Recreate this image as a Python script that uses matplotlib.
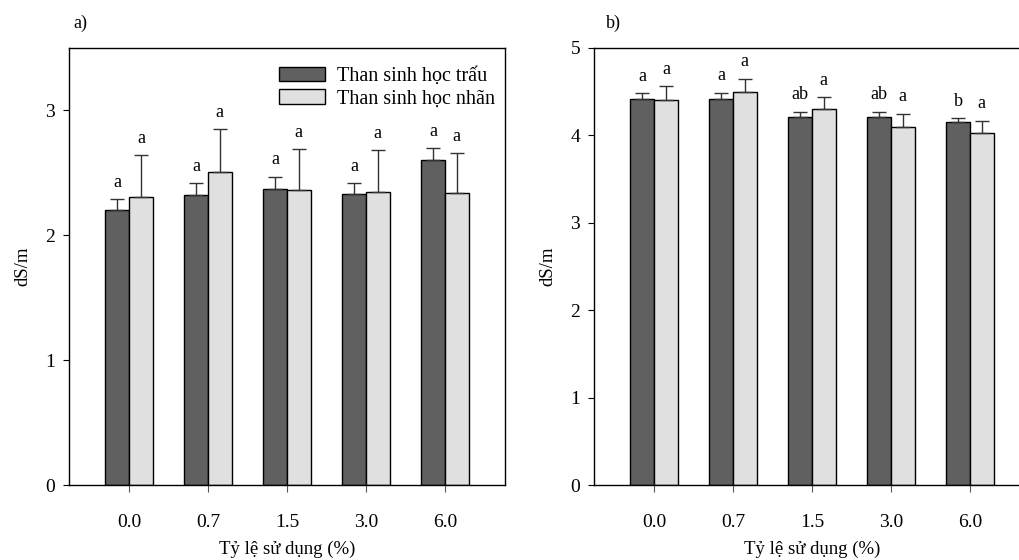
import matplotlib
matplotlib.use("Agg")
import matplotlib.pyplot as plt
import numpy as np
from matplotlib.patches import Patch

plt.rcParams['font.family'] = ['Liberation Serif', 'DejaVu Serif']

categories = ["0.0", "0.7", "1.5", "3.0", "6.0"]
series_names = ["Than sinh học trấu", "Than sinh học nhãn"]

# Panel a
a_trau = [2.20, 2.32, 2.37, 2.33, 2.60]
a_trau_err = [0.09, 0.10, 0.10, 0.09, 0.10]
a_nhan = [2.31, 2.51, 2.36, 2.35, 2.34]
a_nhan_err = [0.33, 0.34, 0.33, 0.33, 0.32]
a_trau_lbl = ["a", "a", "a", "a", "a"]
a_nhan_lbl = ["a", "a", "a", "a", "a"]

# Panel b
b_trau = [4.42, 4.42, 4.21, 4.21, 4.15]
b_trau_err = [0.06, 0.07, 0.06, 0.06, 0.05]
b_nhan = [4.41, 4.50, 4.30, 4.10, 4.03]
b_nhan_err = [0.15, 0.15, 0.14, 0.15, 0.14]
b_trau_lbl = ["a", "a", "ab", "ab", "b"]
b_nhan_lbl = ["a", "a", "a", "a", "a"]

dark = "#606060"
light = "#e0e0e0"

fig = plt.figure(figsize=(10.19, 5.6), dpi=100)

def panel(rect, v1, e1, v2, e2, l1, l2, ymax, yticks, tag, tagx, legend=False):
    ax = fig.add_axes(rect)
    x = np.arange(len(categories))
    w = 0.3
    ekw = dict(ecolor="#333333", elinewidth=1.0, capsize=5, capthick=1.0)
    ax.bar(x - w/2, v1, w, color=dark, edgecolor="black", linewidth=1.0,
           yerr=[np.zeros(len(e1)), e1], error_kw=ekw, zorder=2)
    ax.bar(x + w/2, v2, w, color=light, edgecolor="black", linewidth=1.0,
           yerr=[np.zeros(len(e2)), e2], error_kw=ekw, zorder=2)
    for i in range(len(x)):
        ax.annotate(l1[i], (x[i] - w/2, v1[i] + e1[i]), xytext=(0, 6),
                    textcoords="offset points", ha="center", va="bottom", fontsize=13)
        ax.annotate(l2[i], (x[i] + w/2, v2[i] + e2[i]), xytext=(0, 6),
                    textcoords="offset points", ha="center", va="bottom", fontsize=13)
    ax.set_xlim(-0.76, 4.76)
    ax.set_ylim(0, ymax)
    ax.set_yticks(yticks)
    ax.set_yticklabels([str(t) for t in yticks], fontsize=14)
    ax.set_xticks(x)
    ax.set_xticklabels(categories, fontsize=14)
    ax.tick_params(axis="x", direction="out", length=5, pad=16, color="#555555")
    ax.tick_params(axis="y", direction="out", length=4, pad=6)
    for s in ax.spines.values():
        s.set_linewidth(1.0)
    ax.set_xlabel("Tỷ lệ sử dụng (%)", fontsize=13.5, labelpad=7)
    ax.set_ylabel("dS/m", fontsize=13.5, labelpad=10)
    fig.text(tagx, 1 - 23/560, tag, fontsize=13, ha="left", va="center")
    if legend:
        handles = [Patch(facecolor=dark, edgecolor="black", linewidth=1.0),
                   Patch(facecolor=light, edgecolor="black", linewidth=1.0)]
        ax.legend(handles, series_names, loc="upper right", frameon=False,
                  fontsize=14.5, handlelength=2.3, handleheight=0.75,
                  handletextpad=0.6, labelspacing=0.15,
                  bbox_to_anchor=(1.005, 0.985), borderaxespad=0.2)
    return ax

panel([69/1019, 1 - 485/560, 436/1019, 437/560], a_trau, a_trau_err, a_nhan, a_nhan_err,
      a_trau_lbl, a_nhan_lbl, 3.5, [0, 1, 2, 3], "a)", 73/1019, legend=True)
panel([594/1019, 1 - 485/560, 436/1019, 437/560], b_trau, b_trau_err, b_nhan, b_nhan_err,
      b_trau_lbl, b_nhan_lbl, 5, [0, 1, 2, 3, 4, 5], "b)", 606/1019)

fig.savefig("out.png", dpi=100)
